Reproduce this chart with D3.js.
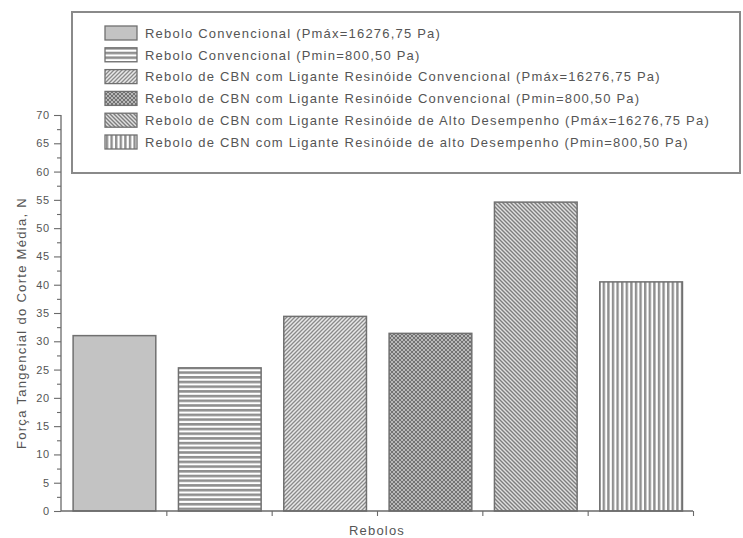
<!DOCTYPE html>
<html>
<head>
<meta charset="utf-8">
<script src="https://cdn.jsdelivr.net/npm/d3@7"></script>
<style>
  html, body { margin: 0; padding: 0; background: #fff; }
  svg { display: block; }
  text { font-family: "Liberation Sans", Arial, sans-serif; fill: #555; }
</style>
</head>
<body>
<svg id="chart" width="743" height="538"></svg>
<script>
// Series labels (one bar per series)
const seriesLabels = [
  "Rebolo Convencional (Pmáx=16276,75 Pa)",
  "Rebolo Convencional (Pmin=800,50 Pa)",
  "Rebolo de CBN com Ligante Resinóide Convencional (Pmáx=16276,75 Pa)",
  "Rebolo de CBN com Ligante Resinóide Convencional (Pmin=800,50 Pa)",
  "Rebolo de CBN com Ligante Resinóide de Alto Desempenho (Pmáx=16276,75 Pa)",
  "Rebolo de CBN com Ligante Resinóide de alto Desempenho (Pmin=800,50 Pa)"
];
// Mean tangential cutting force, N
const forceValues = [31.0, 25.3, 34.4, 31.4, 54.6, 40.5];
// Fill pattern id for each series
const fillIds = ["solid", "hlines", "fdiag", "cross", "bdiag", "vlines"];
const yTickValues = d3.range(0, 71, 5);
const yMinorValues = d3.range(0, 70.1, 2.5).filter(v => v % 5 !== 0);
const yTitle = "Força Tangencial do Corte Média, N";
const xTitle = "Rebolos";

const svg = d3.select("#chart");
const plot = { left: 61, right: 693, top: 115, bottom: 511 };

const x = d3.scaleLinear().domain([0, seriesLabels.length]).range([plot.left, plot.right]);
const y = d3.scaleLinear().domain([0, 70]).range([plot.bottom, plot.top]);

// ---- fill patterns ----
const defs = svg.append("defs");
function pat(id, w, h, draw) {
  const p = defs.append("pattern").attr("id", id)
    .attr("patternUnits", "userSpaceOnUse").attr("width", w).attr("height", h);
  draw(p);
}
pat("solid", 4, 4, p => p.append("rect").attr("width", 4).attr("height", 4).attr("fill", "#c3c3c3"));
pat("hlines", 4, 4.7, p => {
  p.append("rect").attr("width", 4).attr("height", 4.7).attr("fill", "#fff");
  p.append("rect").attr("y", 0).attr("width", 4).attr("height", 2.6).attr("fill", "#8f8f8f");
});
pat("vlines", 4.6, 4, p => {
  p.append("rect").attr("width", 4.6).attr("height", 4).attr("fill", "#fff");
  p.append("rect").attr("x", 0).attr("width", 2.4).attr("height", 4).attr("fill", "#8f8f8f");
});
pat("fdiag", 4, 4, p => {
  p.append("rect").attr("width", 4).attr("height", 4).attr("fill", "#e8e8e8");
  p.append("path").attr("d", "M-1,1 L1,-1 M0,4 L4,0 M3,5 L5,3")
    .attr("stroke", "#8a8a8a").attr("stroke-width", 1.3);
});
pat("bdiag", 4, 4, p => {
  p.append("rect").attr("width", 4).attr("height", 4).attr("fill", "#e0e0e0");
  p.append("path").attr("d", "M-1,3 L1,5 M0,0 L4,4 M3,-1 L5,1")
    .attr("stroke", "#7e7e7e").attr("stroke-width", 1.4);
});
pat("cross", 4, 4, p => {
  p.append("rect").attr("width", 4).attr("height", 4).attr("fill", "#b8b8b8");
  p.append("path").attr("d", "M-1,1 L1,-1 M0,4 L4,0 M3,5 L5,3 M-1,3 L1,5 M0,0 L4,4 M3,-1 L5,1")
    .attr("stroke", "#6a6a6a").attr("stroke-width", 0.9);
});

// ---- bars ----
svg.append("g").selectAll("rect")
  .data(forceValues)
  .join("rect")
  .attr("x", (d, i) => x(i + 0.115))
  .attr("width", (d, i) => x(i + 0.9) - x(i + 0.115))
  .attr("y", d => y(d))
  .attr("height", d => y(0) - y(d))
  .attr("fill", (d, i) => `url(#${fillIds[i]})`)
  .attr("stroke", "#707070")
  .attr("stroke-width", 1.5);

// ---- axes ----
const axisColor = "#6a6a6a";
const yAxis = svg.append("g").attr("transform", `translate(${plot.left},0)`)
  .call(d3.axisLeft(y).tickValues(yTickValues).tickSize(7).tickPadding(4));
const yMinor = svg.append("g").attr("transform", `translate(${plot.left},0)`)
  .call(d3.axisLeft(y).tickValues(yMinorValues).tickSize(4).tickFormat(""));
const xAxis = svg.append("g").attr("transform", `translate(0,${plot.bottom})`)
  .call(d3.axisBottom(x).tickValues(d3.range(1, seriesLabels.length + 1)).tickSize(5).tickFormat(""));
[yAxis, yMinor, xAxis].forEach(g => {
  g.select(".domain").attr("stroke", axisColor).attr("stroke-width", 1.3);
  g.selectAll(".tick line").attr("stroke", axisColor).attr("stroke-width", 1.1);
});
xAxis.select(".domain").attr("d", `M${plot.left},0H${plot.right}`);
yAxis.select(".domain").attr("d", `M0,${plot.bottom}V${plot.top}`);
yMinor.select(".domain").remove();
yAxis.selectAll(".tick text")
  .style("font-family", '"Liberation Sans", Arial, sans-serif')
  .style("font-size", "11px").style("letter-spacing", "0.8px").attr("fill", "#666");

// ---- axis titles ----
svg.append("text")
  .attr("transform", `translate(26,${(y(0) + y(70)) / 2 + 10}) rotate(-90)`)
  .attr("text-anchor", "middle")
  .style("font-size", "13px").style("letter-spacing", "1.3px")
  .text(yTitle);
svg.append("text")
  .attr("x", x(3)).attr("y", 535)
  .attr("text-anchor", "middle")
  .style("font-size", "13px").style("letter-spacing", "1.2px")
  .text(xTitle);

// ---- legend ----
const legend = svg.append("g");
legend.append("rect")
  .attr("x", 72).attr("y", 12).attr("width", 668).attr("height", 161)
  .attr("fill", "#fff").attr("stroke", "#8a8a8a").attr("stroke-width", 2);
const rowY = i => 33 + i * 21.8;
legend.selectAll("rect.sw")
  .data(seriesLabels).join("rect").attr("class", "sw")
  .attr("x", 105).attr("y", (d, i) => rowY(i) - 7)
  .attr("width", 32).attr("height", 14)
  .attr("fill", (d, i) => `url(#${fillIds[i]})`)
  .attr("stroke", "#707070").attr("stroke-width", 1.3);
legend.selectAll("text.lab")
  .data(seriesLabels).join("text").attr("class", "lab")
  .attr("x", 145).attr("y", (d, i) => rowY(i) + 4.8)
  .style("font-size", "13px").style("letter-spacing", "1.2px")
  .text(d => d);
</script>
</body>
</html>
